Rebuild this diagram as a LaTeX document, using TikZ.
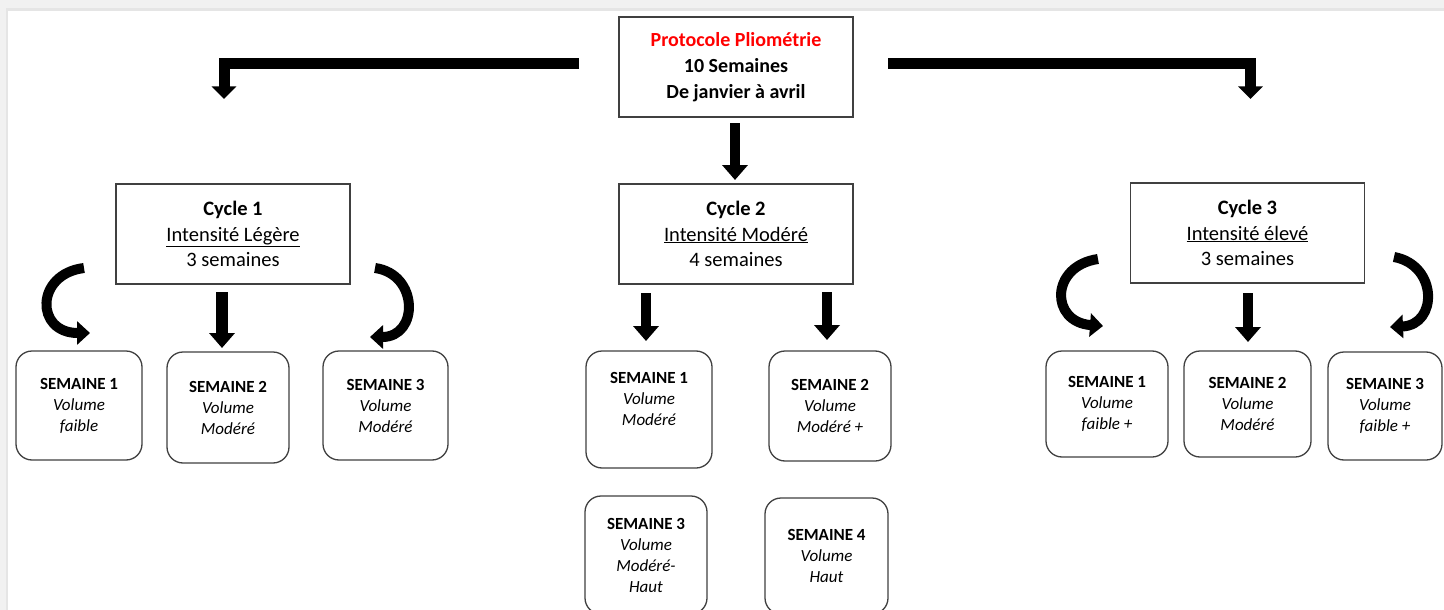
\documentclass[tikz,border=0pt]{standalone}
\usepackage{fontspec}
\setmainfont{Carlito}
\usepackage{xcolor}
\usepackage{tikz}
\usetikzlibrary{arrows.meta,positioning}
\definecolor{linec}{HTML}{404040}
\definecolor{redc}{HTML}{FF0000}
\definecolor{shadec}{HTML}{F1F1F1}
\definecolor{edgec}{HTML}{E5E5E5}
\tikzset{
  ttl/.style={draw=linec,line width=1.5pt,minimum width=234pt,minimum height=100pt,align=center,inner sep=0pt,font=\fontsize{20}{26}\selectfont\bfseries},
  cyc/.style={draw=linec,line width=1.4pt,minimum width=234pt,minimum height=100pt,align=center,inner sep=0pt,font=\fontsize{20.5}{25.5}\selectfont},
  wk/.style={draw=linec,line width=1.3pt,rounded corners=16pt,align=center,inner sep=0pt,font=\fontsize{17}{21}\selectfont},
  elb/.style={-{Triangle[length=12.5pt,width=24pt]},line width=11pt},
  ar/.style={-{Triangle[length=15pt,width=25pt]},line width=11pt},
  cur/.style={-{Triangle[length=13pt,width=23pt]},line width=10pt}
}
\begin{document}
\begin{tikzpicture}[x=1pt,y=-1pt]
\clip (0,0) rectangle (1444,610);
\fill[white] (0,0) rectangle (1444,610);
\fill[shadec] (0,0) rectangle (1444,8);
\fill[edgec] (8,8) rectangle (1444,11);
\fill[shadec] (0,0) rectangle (6,610);
\fill[edgec] (6,8) rectangle (8,610);

\node[ttl] (top) at (736,67) {\textcolor{redc}{Protocole Pliométrie}\\10 Semaines\\De janvier à avril};

\node[cyc] (c1) at (233,234) {\textbf{Cycle 1}\\\underline{Intensité Légère}\\3 semaines};
\node[cyc] (c2) at (736,234) {\textbf{Cycle 2}\\\underline{Intensité Modéré}\\4 semaines};
\node[cyc] (c3) at (1247.5,233) {\textbf{Cycle 3}\\\underline{Intensité élevé}\\3 semaines};

\node[wk,minimum width=126pt,minimum height=109pt] (s11) at (79,405.5) {\textbf{SEMAINE 1}\\\textit{Volume}\\\textit{faible}};
\node[wk,minimum width=122pt,minimum height=111pt] (s12) at (228,407.5) {\textbf{SEMAINE 2}\\\textit{Volume}\\\textit{Modéré}};
\node[wk,minimum width=125pt,minimum height=109pt] (s13) at (385.5,405.5) {\textbf{SEMAINE 3}\\\textit{Volume}\\\textit{Modéré}};

\node[wk,minimum width=126pt,minimum height=117pt] (s21) at (649,409.5) {\textbf{SEMAINE 1}\\\textit{Volume}\\\textit{Modéré}\\\mbox{}};
\node[wk,minimum width=122pt,minimum height=110pt] (s22) at (830,406) {\textbf{SEMAINE 2}\\\textit{Volume}\\\textit{Modéré +}};
\node[wk,minimum width=122pt,minimum height=118pt] (s23) at (646,555) {\textbf{SEMAINE 3}\\\textit{Volume}\\\textit{Modéré-}\\\textit{Haut}};
\node[wk,minimum width=123pt,minimum height=116pt] (s24) at (826.5,556) {\textbf{SEMAINE 4}\\\textit{Volume}\\\textit{Haut}};

\node[wk,minimum width=122pt,minimum height=106pt] (s31) at (1107,404) {\textbf{SEMAINE 1}\\\textit{Volume}\\\textit{faible +}};
\node[wk,minimum width=127pt,minimum height=106pt] (s32) at (1247.5,404) {\textbf{SEMAINE 2}\\\textit{Volume}\\\textit{Modéré}};
\node[wk,minimum width=114pt,minimum height=108pt] (s33) at (1385,406) {\textbf{SEMAINE 3}\\\textit{Volume}\\\textit{faible +}};

\coordinate (la) at (579,64);
\coordinate (lb) at (224,99);
\coordinate (ra) at (888,64);
\coordinate (rb) at (1250.5,99);
\coordinate (ma) at (735,123);
\coordinate (mb) at (735,180);
\draw[elb] (la) -| (lb);
\draw[elb] (ra) -| (rb);
\draw[ar,line width=10pt] (ma) -- (mb);

\coordinate (a1) at (84,268);
\coordinate (b1) at (90,333);
\coordinate (a2) at (222,292);
\coordinate (b2) at (222,348);
\coordinate (a3) at (375,268);
\coordinate (b3) at (370,337);
\draw[cur] (a1) .. controls (35,274) and (35,333) .. (b1);
\draw[ar,line width=12pt] (a2) -- (b2);
\draw[cur] (a3) .. controls (419,274) and (419,337) .. (b3);

\coordinate (d1) at (646,293);
\coordinate (e1) at (646,341);
\coordinate (d2) at (827,292);
\coordinate (e2) at (827,340);
\draw[ar,line width=10.5pt] (d1) -- (e1);
\draw[ar,line width=10.5pt] (d2) -- (e2);

\coordinate (f1) at (1098,259);
\coordinate (g1) at (1103,326);
\coordinate (f2) at (1248,293);
\coordinate (g2) at (1248,342);
\coordinate (f3) at (1394,257);
\coordinate (g3) at (1390,327);
\draw[cur] (f1) .. controls (1050,266) and (1050,322) .. (g1);
\draw[ar,line width=10.5pt] (f2) -- (g2);
\draw[cur] (f3) .. controls (1438,265) and (1438,325) .. (g3);
\end{tikzpicture}
\end{document}
